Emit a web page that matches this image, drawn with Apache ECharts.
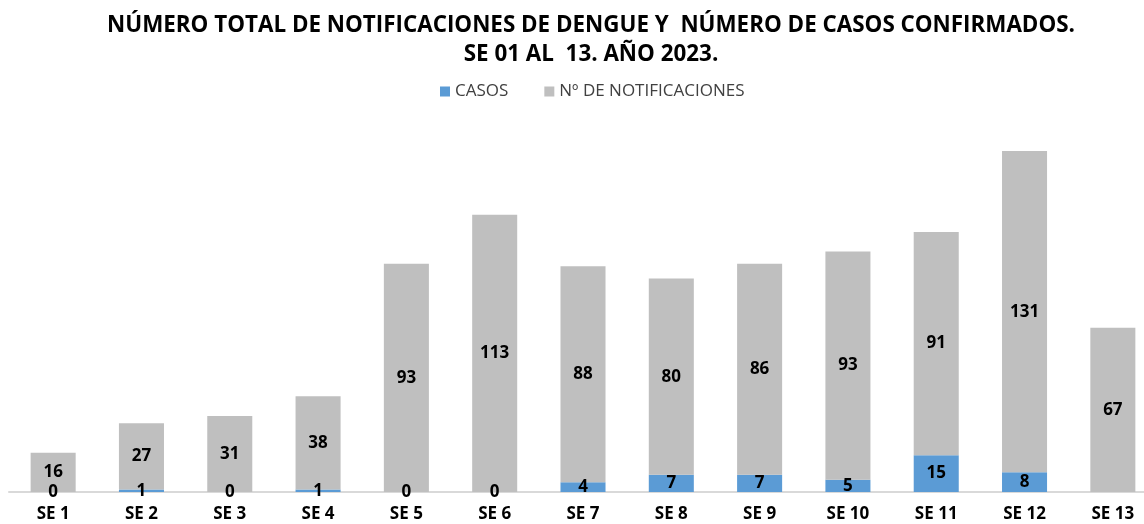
<!DOCTYPE html>
<html>
<head>
<meta charset="utf-8">
<script src="https://cdn.jsdelivr.net/npm/echarts@6/dist/echarts.min.js"></script>
<style>
  html, body { margin: 0; padding: 0; background: #fff; }
  #chart { width: 1144px; height: 524px; }
</style>
</head>
<body>
<div id="chart"></div>
<script>
// semanas epidemiologicas
var semanas = ['SE 1', 'SE 2', 'SE 3', 'SE 4', 'SE 5', 'SE 6', 'SE 7', 'SE 8', 'SE 9', 'SE 10', 'SE 11', 'SE 12', 'SE 13'];
var casos = [0, 1, 0, 1, 0, 0, 4, 7, 7, 5, 15, 8, null];
var notificaciones = [16, 27, 31, 38, 93, 113, 88, 80, 86, 93, 91, 131, 67];

var chart = echarts.init(document.getElementById('chart'), null, { renderer: 'canvas' });
var font = '"Open Sans", sans-serif';

var option = {
  animation: false,
  color: ['#5B9BD5', '#BFBFBF'],
  title: {
    text: 'NÚMERO TOTAL DE NOTIFICACIONES DE DENGUE Y  NÚMERO DE CASOS CONFIRMADOS.\nSE 01 AL  13. AÑO 2023.',
    left: 586,
    textAlign: 'center',
    top: 6,
    textStyle: {
      fontFamily: font,
      fontWeight: 'bold',
      fontSize: 22.4,
      lineHeight: 29,
      color: '#000'
    }
  },
  legend: {
    top: 78,
    left: 435,
    itemWidth: 10,
    itemHeight: 10,
    itemGap: 36,
    icon: 'rect',
    textStyle: { fontFamily: font, fontSize: 17, color: '#404040' }
  },
  grid: {
    left: 9,
    right: -13,
    top: 124,
    bottom: 32,
    outerBoundsMode: 'none',
    containLabel: false
  },
  xAxis: {
    type: 'category',
    data: semanas,
    axisLine: { lineStyle: { color: '#D9D9D9', width: 2 } },
    axisTick: { show: false },
    axisLabel: {
      fontFamily: font,
      fontWeight: 'bold',
      fontSize: 17,
      color: '#000',
      margin: 14
    }
  },
  yAxis: {
    type: 'value',
    min: 0,
    max: 150,
    show: false,
    splitLine: { show: false }
  },
  series: [{
    name: 'CASOS',
    type: 'bar',
    stack: 'total',
    barWidth: '51%',
    data: casos,
    label: {
      show: true,
      position: 'inside',
      fontFamily: font,
      fontWeight: 'bold',
      fontSize: 17,
      color: '#000'
    }
  }, {
    name: 'Nº DE NOTIFICACIONES',
    type: 'bar',
    stack: 'total',
    barWidth: '51%',
    data: notificaciones,
    label: {
      show: true,
      position: 'inside',
      fontFamily: font,
      fontWeight: 'bold',
      fontSize: 17,
      color: '#000'
    }
  }]
};
chart.setOption(option);
</script>
</body>
</html>
